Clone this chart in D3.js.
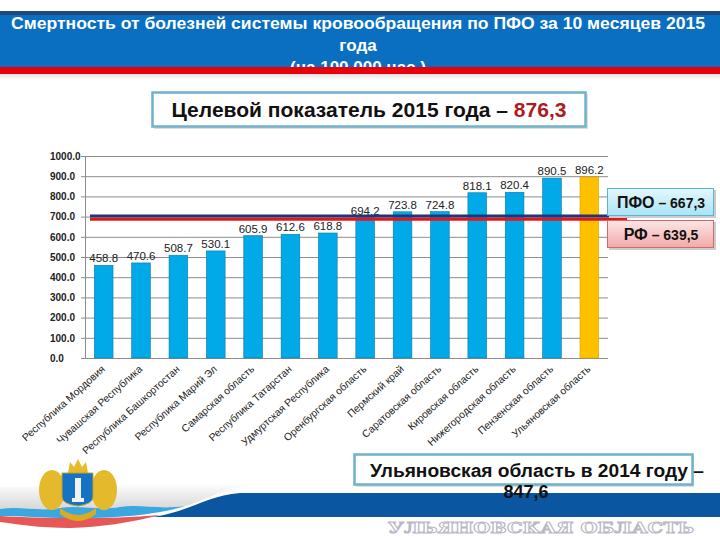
<!DOCTYPE html>
<html>
<head>
<meta charset="utf-8">
<script src="https://cdn.jsdelivr.net/npm/d3@7"></script>
<style>
body { margin: 0; background: #fff; }
svg { display: block; }
</style>
</head>
<body>
<svg id="slide" width="720" height="540"></svg>
<script>
var regions = ["Республика Мордовия", "Чувашская Республика", "Республика Башкортостан",
    "Республика Марий Эл", "Самарская область", "Республика Татарстан",
    "Удмуртская Республика", "Оренбургская область", "Пермский край",
    "Саратовская область", "Кировская область", "Нижегородская область",
    "Пензенская область", "Ульяновская область"];
var values = [458.8, 470.6, 508.7, 530.1, 605.9, 612.6, 618.8, 694.2, 723.8, 724.8, 818.1, 820.4, 890.5, 896.2];
var highlight = "Ульяновская область";
var yTicks = [0, 100, 200, 300, 400, 500, 600, 700, 800, 900, 1000];

var titleLines = ["Смертность от болезней системы кровообращения по ПФО за 10 месяцев 2015", "года", "(на 100 000 нас.)"];
var refNames = ["ПФО", "РФ"];
var refValues = ["667,3", "639,5"];
var refLevels = [703, 687];   // where the two lines sit on the chart in the picture
var targetValue = "876,3";
var ulyanovsk2014 = "847,6";

var svg = d3.select("#slide");
var defs = svg.append("defs");

function grad(id, c1, c2) {
    var g = defs.append("linearGradient").attr("id", id)
        .attr("x1", 0).attr("y1", 0).attr("x2", 0).attr("y2", 1);
    g.append("stop").attr("offset", "0%").attr("stop-color", c1);
    g.append("stop").attr("offset", "100%").attr("stop-color", c2);
}
grad("gPfo", "#e4f8fd", "#a9e3f3");
grad("gRf", "#fde6e6", "#f2a9a9");
grad("gShadow", "#d0d0d0", "#ffffff");
grad("gGray", "#ffffff", "#d4d4d4");

// ---- title banner
svg.append("rect").attr("x", 0).attr("y", 11).attr("width", 720).attr("height", 4).attr("fill", "#1f497d");
svg.append("rect").attr("x", 0).attr("y", 15).attr("width", 720).attr("height", 53).attr("fill", "#0a6fc0");
var title = svg.append("g")
    .attr("font-family", "'Liberation Sans Narrow', 'Liberation Sans', Arial, sans-serif")
    .attr("font-weight", "bold")
    .attr("font-size", 17).attr("fill", "#fff").attr("text-anchor", "middle");
title.append("text").attr("x", 358).attr("y", 29).attr("textLength", 694)
    .attr("lengthAdjust", "spacingAndGlyphs").text(titleLines[0]);
title.append("text").attr("x", 358).attr("y", 51).text(titleLines[1]);
title.append("text").attr("x", 358).attr("y", 73).text(titleLines[2]);
svg.append("rect").attr("x", 0).attr("y", 67).attr("width", 720).attr("height", 7).attr("fill", "#e8000b");
svg.append("rect").attr("x", 0).attr("y", 74).attr("width", 720).attr("height", 6).attr("fill", "url(#gShadow)").attr("opacity", 0.6);

// ---- target box
svg.append("rect").attr("x", 154).attr("y", 94).attr("width", 434).attr("height", 35)
    .attr("fill", "#ddd");
svg.append("rect").attr("x", 152.5).attr("y", 92.5).attr("width", 433).attr("height", 34)
    .attr("fill", "#fff").attr("stroke", "#6eb3c9").attr("stroke-width", 2.5);
var tt = svg.append("text").attr("x", 369).attr("y", 117).attr("text-anchor", "middle")
    .attr("textLength", 395).attr("lengthAdjust", "spacingAndGlyphs")
    .attr("font-family", "'Liberation Sans', Arial, sans-serif").attr("font-weight", "bold")
    .attr("font-size", 20).attr("fill", "#111");
tt.append("tspan").text("Целевой показатель 2015 года – ");
tt.append("tspan").attr("fill", "#b0191e").text(targetValue);

// ---- chart
var x = d3.scaleBand().domain(regions).range([85, 608]).paddingInner(0.5).paddingOuter(0.25);
var y = d3.scaleLinear().domain([0, 1000]).range([358, 156]);

var grid = svg.append("g");
grid.selectAll("line").data(yTicks.slice(1)).enter().append("line")
    .attr("x1", 85).attr("x2", 608)
    .attr("y1", function(d) { return y(d) + 0.5; })
    .attr("y2", function(d) { return y(d) + 0.5; })
    .attr("stroke", "#8c8c8c").attr("stroke-width", 1);

var yAxis = svg.append("g").attr("transform", "translate(85,0)")
    .call(d3.axisLeft(y).tickValues(yTicks).tickSize(4).tickFormat(d3.format(".1f")));
yAxis.select(".domain").attr("stroke", "#8c8c8c");
yAxis.selectAll(".tick line").attr("stroke", "#8c8c8c");
yAxis.selectAll(".tick text").attr("x", -35).attr("text-anchor", "start")
    .attr("font-family", "'Liberation Sans', Arial, sans-serif").attr("font-weight", "bold")
    .attr("font-size", 10).attr("fill", "#222");

svg.append("line").attr("x1", 85).attr("x2", 608).attr("y1", y(0) + 0.5).attr("y2", y(0) + 0.5)
    .attr("stroke", "#8c8c8c");

var data = regions.map(function(r, i) { return { name: r, value: values[i] }; });

svg.append("g").selectAll("rect").data(data).enter().append("rect")
    .attr("x", function(d) { return x(d.name); })
    .attr("y", function(d) { return y(d.value); })
    .attr("width", x.bandwidth())
    .attr("height", function(d) { return y(0) - y(d.value); })
    .attr("fill", function(d) { return d.name === highlight ? "#ffc000" : "#00aae9"; })
    .attr("stroke", function(d) { return d.name === highlight ? "#d9a000" : "#0b78a8"; })
    .attr("stroke-width", 0.6);

svg.append("g").selectAll("text").data(data).enter().append("text")
    .attr("x", function(d) { return x(d.name) + x.bandwidth() / 2; })
    .attr("y", function(d) { return y(d.value) - 3; })
    .attr("text-anchor", "middle")
    .attr("font-family", "'Liberation Sans', Arial, sans-serif")
    .attr("font-size", 11.5).attr("fill", "#222")
    .text(function(d) { return d3.format(".1f")(d.value); });

svg.append("g").selectAll("text").data(regions).enter().append("text")
    .attr("transform", function(d) {
        return "translate(" + (x(d) + x.bandwidth() / 2 + 2) + ",370) rotate(-42)";
    })
    .attr("text-anchor", "end")
    .attr("font-family", "'Liberation Sans', Arial, sans-serif")
    .attr("font-size", 10.3).attr("fill", "#222")
    .text(function(d) { return d; });

// ---- reference lines (ПФО, РФ)
var refColors = ["#1f3578", "#e3161b"];
var refEnds = [610, 627];
svg.append("g").selectAll("line").data(refLevels).enter().append("line")
    .attr("x1", 90).attr("x2", function(d, i) { return refEnds[i]; })
    .attr("y1", function(d) { return y(d); })
    .attr("y2", function(d) { return y(d); })
    .attr("stroke", function(d, i) { return refColors[i]; })
    .attr("stroke-width", 3);

var refBoxes = [{ y: 188, fill: "url(#gPfo)", stroke: "#5cb3d1" }, { y: 220, fill: "url(#gRf)", stroke: "#cf6b6b" }];
refBoxes.forEach(function(b, i) {
    svg.append("rect").attr("x", 609).attr("y", b.y + 2).attr("width", 107).attr("height", 28).attr("fill", "#ccc");
    svg.append("rect").attr("x", 607.5).attr("y", b.y + 0.5).attr("width", 106).attr("height", 27)
        .attr("fill", b.fill).attr("stroke", b.stroke).attr("stroke-width", 1);
    var t = svg.append("text").attr("x", 661).attr("y", b.y + 20).attr("text-anchor", "middle")
        .attr("font-family", "'Liberation Sans', Arial, sans-serif").attr("font-weight", "bold").attr("fill", "#111");
    t.append("tspan").attr("font-size", 16).text(refNames[i]);
    t.append("tspan").attr("font-size", 14).text(" – " + refValues[i]);
});

// ---- footer ribbons and emblem
var foot = svg.append("g");
foot.append("path").attr("d", "M150,517 C185,514 205,496 240,493 L720,493 L720,517 Z").attr("fill", "#0a56a1");
foot.append("path").attr("d", "M0,487 L263,483 C225,488 205,500 180,508 C120,512 60,512 0,509 Z").attr("fill", "url(#gGray)");
foot.append("path").attr("d", "M0,509 C20,506 40,512 60,508 C80,505 100,511 120,507 C140,504 160,510 185,506 C160,514 120,519 60,518 C35,517 15,516 0,516 Z").attr("fill", "#3aa7e0");
foot.append("path").attr("d", "M0,516 C40,518 100,520 160,515 C130,523 100,527 70,528 C40,528 15,524 0,522 Z").attr("fill", "#e23a3a").attr("opacity", 0.85);

var em = foot.append("g");
em.append("ellipse").attr("cx", 52).attr("cy", 490).attr("rx", 13).attr("ry", 20).attr("fill", "#e5b92c");
em.append("ellipse").attr("cx", 104).attr("cy", 490).attr("rx", 13).attr("ry", 20).attr("fill", "#e5b92c");
em.append("path").attr("d", "M60,508 Q78,522 96,508 L96,514 Q78,528 60,514 Z").attr("fill", "#d9ab22");
em.append("path").attr("d", "M68,473 L70,462 L74,467 L78,459 L82,467 L86,462 L88,473 Z").attr("fill", "#e8b92a");
em.append("path").attr("d", "M62,473 L93,473 L93,497 Q93,504 78,506 Q62,504 62,497 Z").attr("fill", "#1573c3").attr("stroke", "#c9a020").attr("stroke-width", 1);
em.append("rect").attr("x", 75).attr("y", 478).attr("width", 6).attr("height", 21).attr("fill", "#f2f2f2");
em.append("rect").attr("x", 72).attr("y", 498).attr("width", 12).attr("height", 4).attr("fill", "#f2f2f2");

svg.append("text").attr("x", 388).attr("y", 533)
    .attr("textLength", 306).attr("lengthAdjust", "spacingAndGlyphs")
    .attr("font-family", "'DejaVu Serif', 'Liberation Serif', serif").attr("font-weight", "bold")
    .attr("font-size", 15).attr("fill", "#fff").attr("stroke", "#b9b9c4").attr("stroke-width", 1)
    .text("УЛЬЯНОВСКАЯ ОБЛАСТЬ");

// ---- Ulyanovsk 2014 box
svg.append("rect").attr("x", 356).attr("y", 456).attr("width", 338).attr("height", 31).attr("fill", "#ddd");
svg.append("rect").attr("x", 354.5).attr("y", 454.5).attr("width", 338).attr("height", 30)
    .attr("fill", "#fff").attr("stroke", "#6eb3c9").attr("stroke-width", 2.5);
var ub = svg.append("text").attr("text-anchor", "middle")
    .attr("font-family", "'Liberation Sans', Arial, sans-serif").attr("font-weight", "bold")
    .attr("font-size", 18).attr("fill", "#111");
ub.append("tspan").attr("x", 537).attr("y", 477).attr("textLength", 334)
    .attr("lengthAdjust", "spacingAndGlyphs").text("Ульяновская область в 2014 году –");
ub.append("tspan").attr("x", 526).attr("y", 498).text(ulyanovsk2014);
</script>
</body>
</html>
